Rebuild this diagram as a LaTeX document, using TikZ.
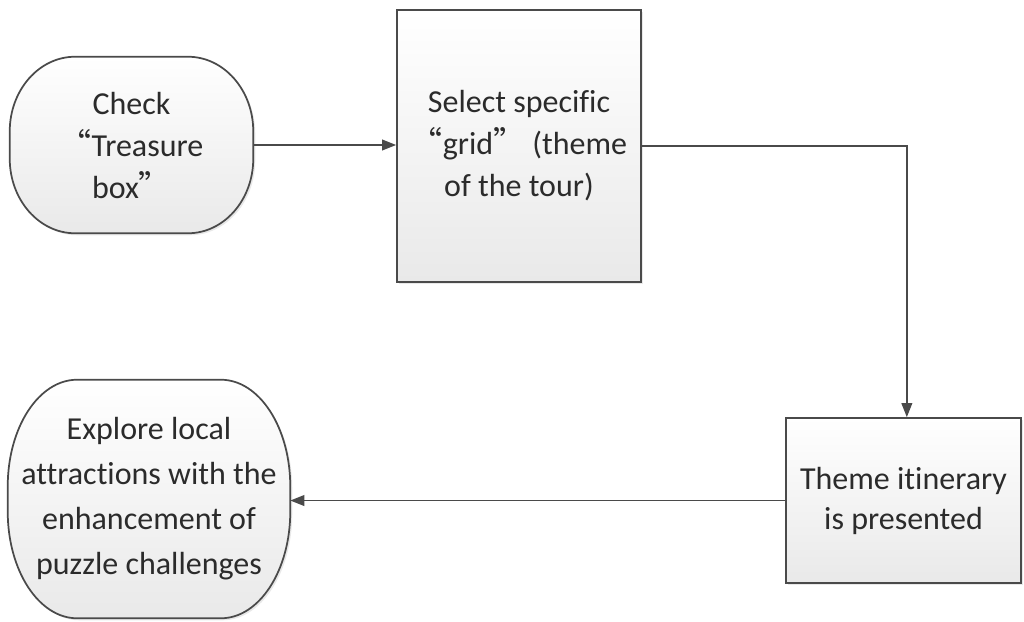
\documentclass[tikz,border=0pt]{standalone}
\usepackage{fontspec}
\setmainfont{Carlito}[Ligatures={NoCommon}]
\newfontfamily\cjk{Noto Sans CJK SC}
\usetikzlibrary{arrows.meta,shadows,backgrounds}

\definecolor{edge}{HTML}{4A4A4A}
\definecolor{ink}{HTML}{2B2B2B}
\definecolor{fillbot}{HTML}{E9E9E9}

\newcommand{\openq}{{\cjk “}}
\newcommand{\closeq}{{\cjk ”}}

% outline of a terminal step: rectangle with elliptical corners (radii in pt)
\newcommand{\termoutline}[3]{%
  \begin{pgfonlayer}{background}
  \path[shapefill]
    ([xshift=#2]#1.north west) -- ([xshift=-#2]#1.north east)
    arc[start angle=90, end angle=0, x radius=#2, y radius=#3]
    -- ([yshift=#3]#1.south east)
    arc[start angle=0, end angle=-90, x radius=#2, y radius=#3]
    -- ([xshift=#2]#1.south west)
    arc[start angle=-90, end angle=-180, x radius=#2, y radius=#3]
    -- ([yshift=-#3]#1.north west)
    arc[start angle=180, end angle=90, x radius=#2, y radius=#3]
    -- cycle;
  \end{pgfonlayer}}

\begin{document}
\begin{tikzpicture}[x=0.75pt,y=-0.75pt,
  shapefill/.style={draw=edge, line width=1.3pt, top color=white, bottom color=fillbot,
    drop shadow={opacity=0.18, shadow xshift=1.5pt, shadow yshift=-1.5pt}},
  label/.style={text=ink, align=center, inner sep=0pt,
    font=\fontsize{24pt}{31.5pt}\selectfont},
  procbox/.style={label, shapefill, rectangle},
  termbox/.style={label, rectangle},
  flow/.style={draw=edge, line width=1.2pt, -{Triangle[length=10.5pt,width=8pt]}}
]
\useasboundingbox (0,0) rectangle (1024,621);

% process steps
\node[termbox, minimum width=243*0.75pt, minimum height=176*0.75pt] (check) at (131.5,145)
  {Check\\\openq Treasure\\box\closeq};
\termoutline{check}{49pt}{56pt}

\node[procbox, minimum width=244*0.75pt, minimum height=272*0.75pt] (select) at (519,146)
  {Select specific\\\openq grid\closeq{} (theme\\of the tour)};

\node[procbox, minimum width=235*0.75pt, minimum height=165*0.75pt,
      font=\fontsize{24pt}{30pt}\selectfont] (theme) at (903.5,500.5)
  {Theme itinerary\\is presented};

\node[termbox, minimum width=282*0.75pt, minimum height=238*0.75pt,
      font=\fontsize{24pt}{33.75pt}\selectfont] (explore) at (149,499)
  {Explore local\\attractions with the\\enhancement of\\puzzle challenges};
\termoutline{explore}{52pt}{80pt}

% connectors
\draw[flow] (check.east) -- (select.west |- check.east);
\draw[flow] (select.east) -| ([xshift=2.5pt]theme.north);
\draw[flow] (theme.west) -- (explore.east |- theme.west);
\end{tikzpicture}
\end{document}
